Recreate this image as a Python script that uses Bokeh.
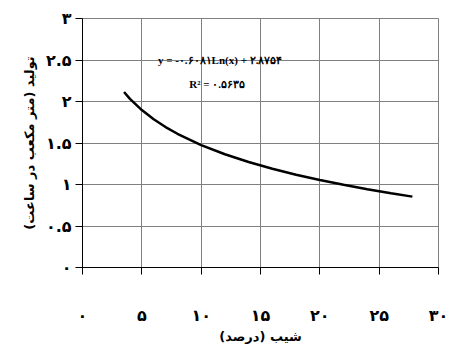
from bokeh.plotting import figure
from bokeh.models import Range1d, FixedTicker, Label
from bokeh.embed import file_html
from bokeh.resources import INLINE

# Trend curve points
slope_pct = [3.5, 4, 5, 6, 7, 8, 10, 12, 14, 16, 18, 20, 22, 24, 26, 27.8]
production = [2.114, 2.032, 1.897, 1.786, 1.692, 1.611, 1.475, 1.364, 1.271,
              1.189, 1.118, 1.054, 0.996, 0.943, 0.894, 0.854]

x_ticks = [0, 5, 10, 15, 20, 25, 30]
x_tick_labels = ["۰", "۵", "۱۰", "۱۵", "۲۰", "۲۵", "۳۰"]
y_ticks = [0, 0.5, 1, 1.5, 2, 2.5, 3]
y_tick_labels = ["۰", "۰.۵", "۱", "۱.۵", "۲", "۲.۵", "۳"]

x_title = "شیب (درصد)"
y_title = "تولید (متر مکعب در ساعت)"
eq_text = "y = -۰.۶۰۸۱Ln(x) + ۲.۸۷۵۴"
r2_text = "R² = ۰.۵۶۳۵"

p = figure(width=449, height=346, output_backend="svg", toolbar_location=None,
           x_range=Range1d(0, 30), y_range=Range1d(0, 3),
           min_border_left=82, min_border_right=11, min_border_top=18,
           min_border_bottom=79)

p.background_fill_color = "white"
p.border_fill_color = "white"
p.outline_line_color = "#808080"
p.outline_line_width = 1

p.xaxis.ticker = FixedTicker(ticks=x_ticks)
p.yaxis.ticker = FixedTicker(ticks=y_ticks)
p.xaxis.major_label_overrides = {t: l for t, l in zip(x_ticks, x_tick_labels)}
p.yaxis.major_label_overrides = {t: l for t, l in zip(y_ticks, y_tick_labels)}

p.xgrid.grid_line_color = "#808080"
p.ygrid.grid_line_color = "#808080"
p.xgrid.grid_line_width = 1
p.ygrid.grid_line_width = 1

for ax in (p.xaxis, p.yaxis):
    ax.axis_line_color = "black"
    ax.axis_line_width = 1
    ax.major_tick_line_color = "black"
    ax.major_tick_out = 7
    ax.major_tick_in = 0
    ax.minor_tick_line_color = None
    ax.major_label_text_font = "DejaVu Sans"
    ax.major_label_text_font_style = "bold"
    ax.major_label_text_font_size = "16px"
    ax.major_label_text_color = "black"
    ax.axis_label_text_font = "DejaVu Sans"
    ax.axis_label_text_font_style = "bold"
    ax.axis_label_text_font_size = "13px"
    ax.axis_label_text_color = "black"

p.xaxis.major_label_standoff = 31
p.yaxis.major_label_standoff = 4
p.xaxis.axis_label = x_title
p.yaxis.axis_label = y_title
p.xaxis.axis_label_standoff = 1
p.yaxis.axis_label_standoff = 6

p.line(slope_pct, production, line_color="black", line_width=2.5)

p.add_layout(Label(x=11.6, y=2.5, text=eq_text, text_align="center",
                   text_baseline="middle", text_font="Liberation Serif",
                   text_font_style="bold", text_font_size="11px",
                   text_color="black"))
p.add_layout(Label(x=11.35, y=2.215, text=r2_text, text_align="center",
                   text_baseline="middle", text_font="Liberation Serif",
                   text_font_style="bold", text_font_size="11px",
                   text_color="black"))

open("out.html", "w").write(file_html(p, INLINE))
